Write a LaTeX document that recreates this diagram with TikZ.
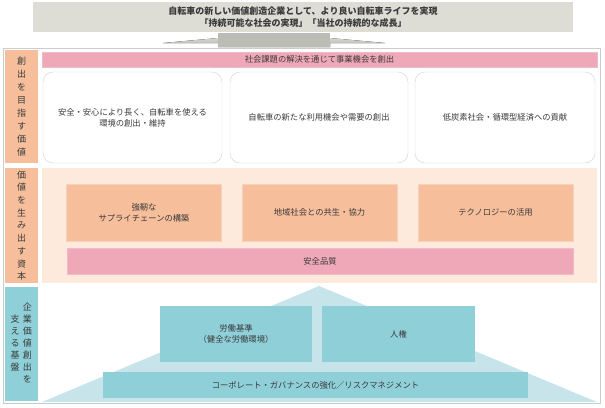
\documentclass[tikz,border=0pt]{standalone}
\usepackage{fontspec}
\setmainfont{Noto Sans CJK JP}
\usetikzlibrary{positioning}

\definecolor{salmon}{HTML}{F6BE9B}
\definecolor{rose}{HTML}{EFA8B8}
\definecolor{peach}{HTML}{FDEADD}
\definecolor{teal}{HTML}{8ECFD8}
\definecolor{paleteal}{HTML}{C6E4E9}
\definecolor{ink}{HTML}{3A3A3A}
\definecolor{banner}{HTML}{DDDDD6}

\tikzset{
  every node/.style={text=ink, font=\fontsize{8.3}{11}\selectfont, align=center, inner sep=0pt},
  sidelabel/.style={fill=salmon, minimum width=33pt},
  goalbox/.style={draw=black!18, fill=white, rounded corners=10pt, minimum height=91pt},
  capbox/.style={fill=salmon, draw=salmon!70!white, minimum height=57pt, minimum width=155pt},
  basebox/.style={fill=teal, minimum height=56pt},
  rosebar/.style={fill=rose, draw=rose!80!white}
}

\begin{document}
\begin{tikzpicture}[x=1pt,y=-1pt]

\useasboundingbox (0,0) rectangle (605,407);

% banner and arrow
\fill[top color=banner!60!white, bottom color=banner!80!black] (163,43) -- (274,33) -- (385,43) -- (330,43) -- (330,47) -- (218,47) -- (218,43) -- cycle;
\fill[banner!85!black] (218,33) rectangle (330,47);
\node[fill=banner, minimum width=540pt, minimum height=30pt, font=\fontsize{9}{11.5}\selectfont\bfseries] (vision) at (303,17)
  {自転車の新しい価値創造企業として、より良い自転車ライフを実現\\「持続可能な社会の実現」「当社の持続的な成長」};

% outer frame
\draw[black!20, line width=1pt] (3,48) rectangle (600,403);

% row 1
\node[sidelabel, minimum height=113pt, font=\fontsize{9}{13}\selectfont] (row1) at (21.5,106.5) {創\\出\\を\\目\\指\\す\\価\\値};
\node[rosebar, minimum width=555pt, minimum height=15pt] (opportunity) at (319.5,59.5) {社会課題の解決を通じて事業機会を創出};
\node[goalbox, minimum width=179pt] (goal1) at (132.5,117.5) {安全・安心により長く、自転車を使える\\環境の創出・維持};
\node[goalbox, minimum width=178pt] (goal2) at (319,117.5) {自転車の新たな利用機会や需要の創出};
\node[goalbox, minimum width=180pt] (goal3) at (505,117.5) {低炭素社会・循環型経済への貢献};

% row 2
\node[sidelabel, minimum height=115pt, font=\fontsize{9}{12.7}\selectfont] (row2) at (21.5,225.5) {価\\値\\を\\生\\み\\出\\す\\資\\本};
\fill[peach] (42,168) rectangle (597,283);
\node[capbox] (cap1) at (144,212.5) {強靭な\\サプライチェーンの構築};
\node[capbox] (cap2) at (319.5,212.5) {地域社会との共生・協力};
\node[capbox] (cap3) at (495.5,212.5) {テクノロジーの活用};
\node[rosebar, minimum width=506pt, minimum height=26pt] (quality) at (320,261) {安全品質};

% row 3
\node[fill=teal, minimum width=33pt, minimum height=114pt] (row3) at (21.5,344) {};
\node[font=\fontsize{9}{12}\selectfont, anchor=north] (row3a) at (27.5,303) {企\\業\\価\\値\\創\\出\\を};
\node[font=\fontsize{9}{12}\selectfont, anchor=north] (row3b) at (15,315) {支\\え\\る\\基\\盤};
\fill[paleteal] (42,402) -- (319,286) -- (597,402) -- cycle;
\node[basebox, minimum width=152pt] (labour) at (236,334) {労働基準\\（健全な労働環境）};
\node[basebox, minimum width=153pt] (rights) at (398.5,334) {人権};
\node[fill=teal, minimum width=425pt, minimum height=26pt] (governance) at (315.5,385) {コーポレート・ガバナンスの強化／リスクマネジメント};

\end{tikzpicture}
\end{document}
